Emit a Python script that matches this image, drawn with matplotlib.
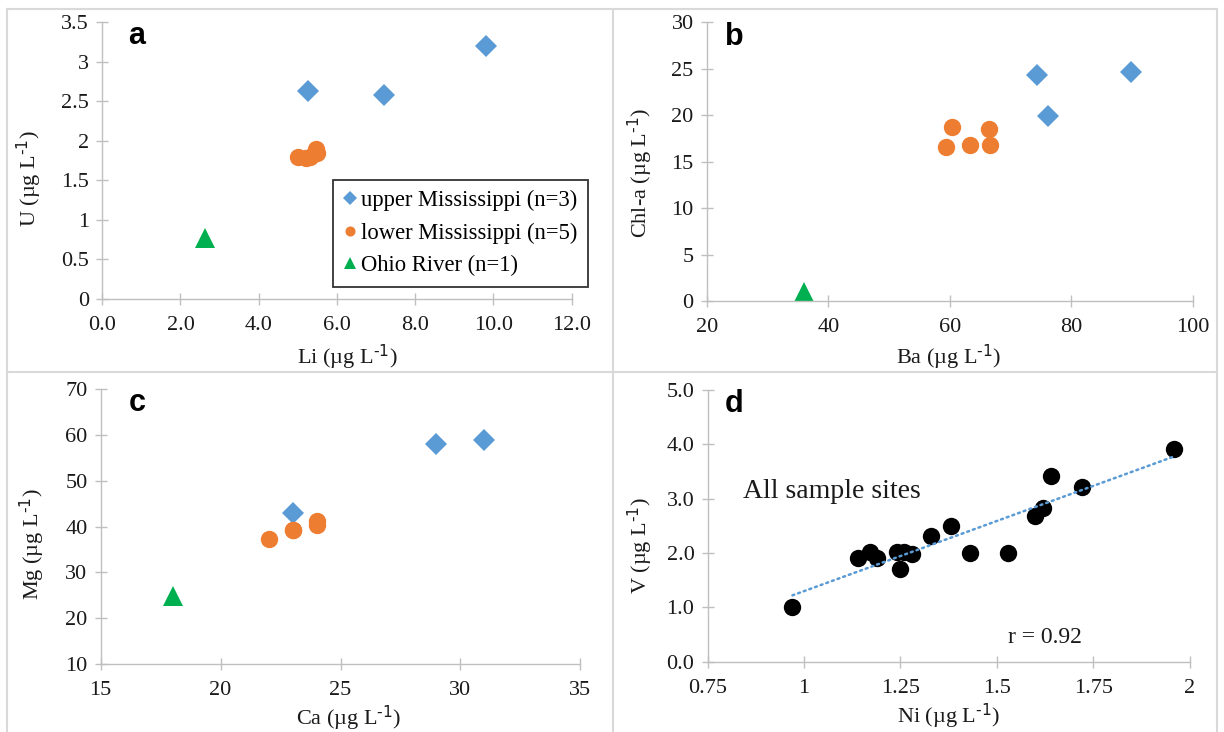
import numpy as np
import matplotlib
matplotlib.use("Agg")
import matplotlib.pyplot as plt
from matplotlib.lines import Line2D
from matplotlib.ticker import FixedLocator, FuncFormatter

plt.rcParams['font.family'] = ['Liberation Serif', 'DejaVu Serif']
plt.rcParams['mathtext.default'] = 'regular'

# ---------------- data ----------------
groups = ["upper Mississippi (n=3)", "lower Mississippi (n=5)", "Ohio River (n=1)"]

# panel a: Li vs U
li_upper = [5.26, 7.19, 9.80]
u_upper = [2.63, 2.58, 3.20]
li_lower = [5.00, 5.20, 5.30, 5.47, 5.50]
u_lower = [1.80, 1.78, 1.80, 1.90, 1.85]
li_ohio = [2.64]
u_ohio = [0.77]

# panel b: Ba vs Chl-a
ba_upper = [74.4, 76.2, 89.8]
chl_upper = [24.3, 19.9, 24.6]
ba_lower = [60.3, 59.4, 63.3, 66.4, 66.7]
chl_lower = [18.7, 16.6, 16.8, 18.5, 16.8]
ba_ohio = [36.0]
chl_ohio = [1.0]

# panel c: Ca vs Mg
ca_upper = [23.0, 29.0, 31.0]
mg_upper = [43.0, 58.1, 58.9]
ca_lower = [22.0, 23.0, 23.0, 24.0, 24.0]
mg_lower = [37.2, 39.2, 39.2, 40.3, 41.2]
ca_ohio = [18.0]
mg_ohio = [24.8]

# panel d: Ni vs V, all sites
ni_all = [0.97, 1.14, 1.17, 1.19, 1.24, 1.25, 1.26, 1.28, 1.33, 1.38, 1.43,
          1.53, 1.60, 1.62, 1.64, 1.72, 1.96]
v_all = [1.00, 1.90, 2.02, 1.90, 2.01, 1.70, 2.02, 1.99, 2.32, 2.50, 2.00,
         2.00, 2.68, 2.82, 3.42, 3.21, 3.91]
r_text = "r = 0.92"

# ticks
a_xticks = [0, 2, 4, 6, 8, 10, 12]
a_yticks = [0, 0.5, 1, 1.5, 2, 2.5, 3, 3.5]
b_xticks = [20, 40, 60, 80, 100]
b_yticks = [0, 5, 10, 15, 20, 25, 30]
c_xticks = [15, 20, 25, 30, 35]
c_yticks = [10, 20, 30, 40, 50, 60, 70]
d_xticks = [0.75, 1, 1.25, 1.5, 1.75, 2]
d_yticks = [0, 1, 2, 3, 4, 5]

# ---------------- style ----------------
W, H = 1224, 732
BLUE = '#5B9BD5'
ORANGE = '#ED7D31'
GREEN = '#00B050'
GRID = '#BFBFBF'
TXT = '#1a1a1a'
TICK_FS = 16
LAB_FS = 16

fig = plt.figure(figsize=(W / 100, H / 100), dpi=100)


def px_axes(x0, x1, y0, y1):
    return fig.add_axes([x0 / W, 1 - y1 / H, (x1 - x0) / W, (y1 - y0) / H])


def fmt_general(v, pos=None):
    s = ('%.2f' % v).rstrip('0').rstrip('.')
    return s


def style(ax, xt, yt, xf, yf):
    ax.set_xlim(xt[0], xt[-1])
    ax.set_ylim(yt[0], yt[-1])
    ax.xaxis.set_major_locator(FixedLocator(xt))
    ax.yaxis.set_major_locator(FixedLocator(yt))
    ax.xaxis.set_major_formatter(FuncFormatter(xf))
    ax.yaxis.set_major_formatter(FuncFormatter(yf))
    for s in ['top', 'right']:
        ax.spines[s].set_visible(False)
    for s in ['left', 'bottom']:
        ax.spines[s].set_color(GRID)
        ax.spines[s].set_linewidth(1.0)
    ax.tick_params(axis='both', direction='inout', length=9, width=1.0,
                   color=GRID, labelcolor=TXT, labelsize=TICK_FS)
    ax.tick_params(axis='x', pad=8)
    ax.tick_params(axis='y', pad=5)
    ax.patch.set_alpha(0)


def labels(ax, xl, yl, xpos, ypos):
    ax.set_xlabel(xl, fontsize=LAB_FS, color=TXT, va='center')
    ax.xaxis.set_label_coords(*xpos)
    ax.set_ylabel(yl, fontsize=LAB_FS, color=TXT, va='center')
    ax.yaxis.set_label_coords(*ypos)


unit = ' (µg L$^{\\text{-1}}$)'

ms_d, ms_o, ms_t = 11.5, 12.5, 15
kw = dict(linestyle='none', markeredgewidth=0, clip_on=False)


def three(ax, xu, yu, xl, yl, xo, yo):
    ax.plot(xu, yu, marker='D', color=BLUE, ms=ms_d, label=groups[0], **kw)
    ax.plot(xl, yl, marker='o', color=ORANGE, ms=ms_o, label=groups[1], **kw)
    ax.plot(xo, yo, marker='^', color=GREEN, ms=ms_t, label=groups[2], **kw)


# panel a
axa = px_axes(102.2, 571.7, 22, 299)
three(axa, li_upper, u_upper, li_lower, u_lower, li_ohio, u_ohio)
style(axa, a_xticks, a_yticks, lambda v, p: '%.1f' % v, fmt_general)
labels(axa, 'Li' + unit, 'U' + unit, (0.521, -0.209), (-0.156, 0.433))
leg = axa.legend(loc='upper left', bbox_to_anchor=(333 / W, 1 - 180 / H),
                 bbox_transform=fig.transFigure, fontsize=16.3, frameon=True,
                 fancybox=False, markerscale=0.58, handlelength=0.6,
                 handletextpad=0.2, borderpad=0.45, labelspacing=0.5,
                 borderaxespad=0)
leg.get_frame().set_edgecolor('black')
leg.get_frame().set_linewidth(1.3)

# panel b
axb = px_axes(706.8, 1192.7, 22, 301)
three(axb, ba_upper, chl_upper, ba_lower, chl_lower, ba_ohio, chl_ohio)
style(axb, b_xticks, b_yticks, fmt_general, fmt_general)
labels(axb, 'Ba' + unit, 'Chl-a' + unit, (0.497, -0.2), (-0.139, 0.459))

# panel c
axc = px_axes(100.7, 580.3, 389.3, 663.7)
three(axc, ca_upper, mg_upper, ca_lower, mg_lower, ca_ohio, mg_ohio)
style(axc, c_xticks, c_yticks, fmt_general, fmt_general)
labels(axc, 'Ca' + unit, 'Mg' + unit, (0.518, -0.195), (-0.145, 0.435))

# panel d
axd = px_axes(707.6, 1189.6, 390, 661.7)
axd.plot(ni_all, v_all, marker='o', color='black', ms=12.5, **kw)
coef = np.polyfit(ni_all, v_all, 1)
xfit = np.array([min(ni_all), max(ni_all)])
axd.plot(xfit, np.polyval(coef, xfit), color=BLUE, lw=1.8,
         linestyle=(0, (0.8, 1.6)), dash_capstyle='round', zorder=5)
style(axd, d_xticks, d_yticks, fmt_general, lambda v, p: '%.1f' % v)
labels(axd, 'Ni' + unit, 'V' + unit, (0.5, -0.2), (-0.1417, 0.426))


# annotations (figure pixel positions)
def ftext(x, y, s, **k):
    fig.text(x / W, 1 - y / H, s, **k)


for (x, y, s) in [(128, 44, 'a'), (725, 45, 'b'), (129, 411, 'c'), (725, 412, 'd')]:
    ftext(x, y, s, family='Liberation Sans', weight='bold', fontsize=22,
          va='baseline', ha='left', color='black')
ftext(743.5, 497.7, 'All sample sites', fontsize=20, va='baseline', color=TXT)
ftext(1008, 642.7, r_text, fontsize=17, va='baseline', color=TXT)

# panel frames (light grey)
FR = '#D9D9D9'
for (xs, ys) in [([7, 1217], [9, 9]), ([7, 7], [9, 740]), ([1217, 1217], [9, 740]),
                 ([612.5, 612.5], [9, 740]), ([7, 1217], [371.5, 371.5])]:
    fig.add_artist(Line2D([x / W for x in xs], [1 - y / H for y in ys],
                          color=FR, lw=1.5, transform=fig.transFigure))

fig.savefig('out.png', dpi=100)
